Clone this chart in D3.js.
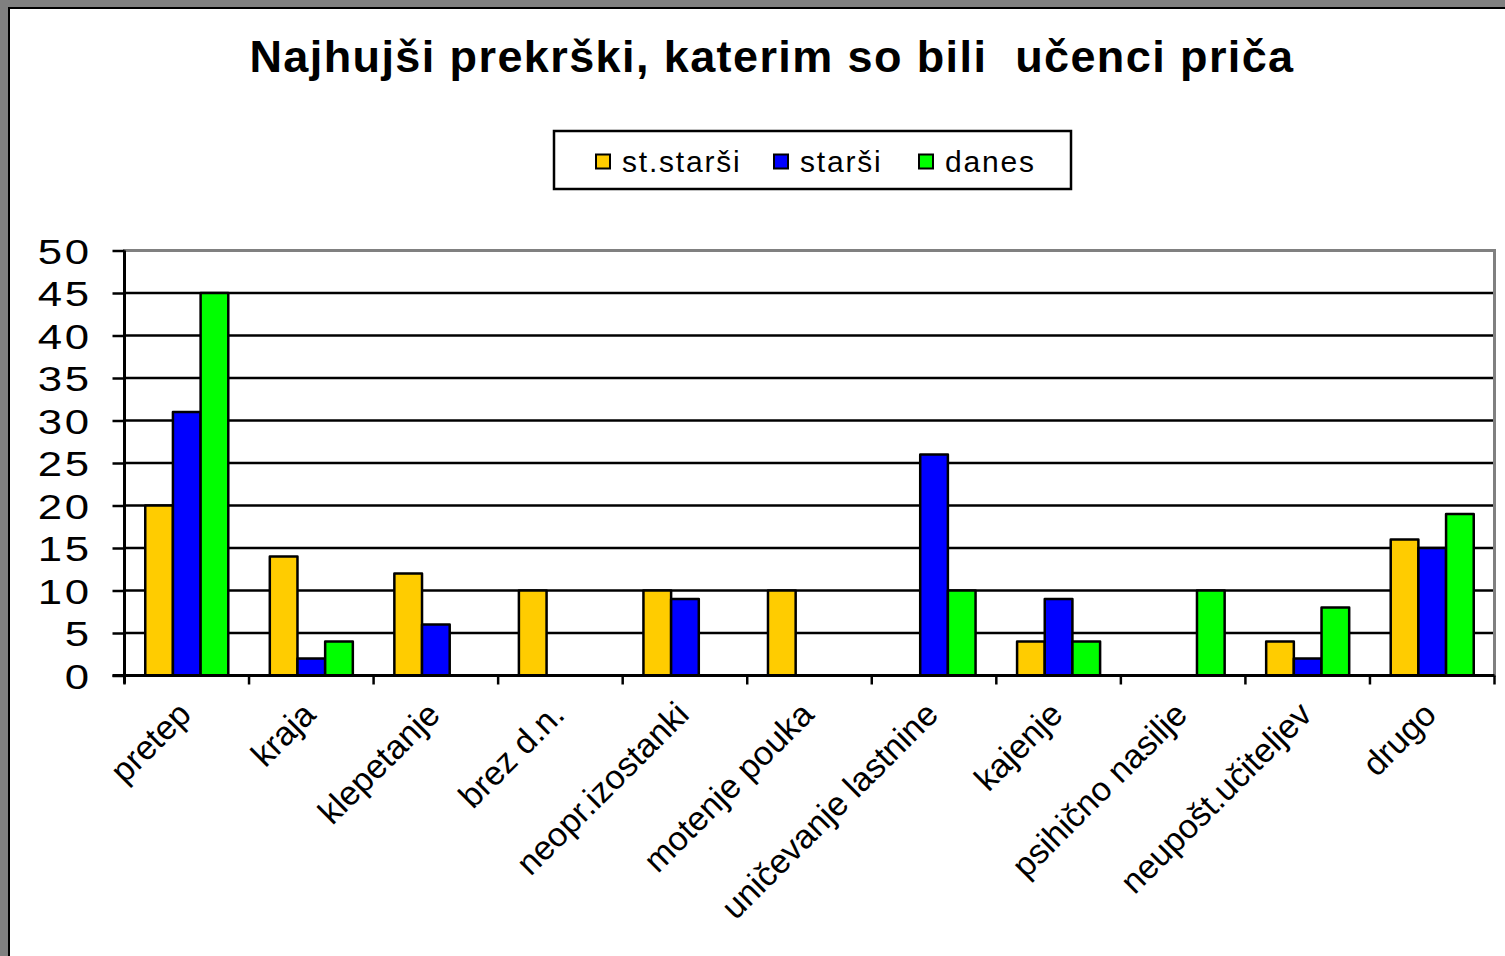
<!DOCTYPE html>
<html>
<head>
<meta charset="utf-8">
<script src="https://cdn.jsdelivr.net/npm/d3@7"></script>
<style>
  html, body { margin: 0; padding: 0; background: #808080; }
  svg { display: block; }
  text { font-family: "Liberation Sans", Arial, sans-serif; }
</style>
</head>
<body>
<svg id="chart" width="1505" height="956"></svg>
<script>
const categories = ["pretep", "kraja", "klepetanje", "brez d.n.", "neopr.izostanki", "motenje pouka", "uničevanje lastnine", "kajenje", "psihično nasilje", "neupošt.učiteljev", "drugo"];
const seriesNames = ["st.starši", "starši", "danes"];
const stStarsi = [20, 14, 12, 10, 10, 10, 0, 4, 0, 4, 16];
const starsi   = [31, 2, 6, 0, 9, 0, 26, 9, 0, 2, 15];
const danes    = [45, 4, 0, 0, 0, 0, 10, 4, 10, 8, 19];
const yTicks = [0, 5, 10, 15, 20, 25, 30, 35, 40, 45, 50];
const colors = ["#FFCC00", "#0000FF", "#00FF00"];
const titleText = "Najhujši prekrški, katerim so bili  učenci priča";

const seriesValues = [stStarsi, starsi, danes];
const data = categories.map((c, i) => ({cat: c, vals: seriesValues.map((s, j) => ({key: seriesNames[j], v: s[i], j}))}));

const svg = d3.select("#chart");
svg.append("rect").attr("x", 9).attr("y", 8).attr("width", 1600).attr("height", 1000)
  .attr("fill", "#fff").attr("stroke", "#000").attr("stroke-width", 2);

const plot = {left: 124.5, right: 1494.5, top: 250.5, bottom: 675.5};

const x0 = d3.scaleBand().domain(categories).range([plot.left, plot.right]).paddingInner(0).paddingOuter(0);
const x1 = d3.scaleBand().domain(seriesNames).range([0, x0.bandwidth()]).paddingInner(0).paddingOuter(0.75);
const y = d3.scaleLinear().domain([0, 50]).range([plot.bottom, plot.top]);

svg.append("rect").attr("x", plot.left).attr("y", plot.top)
  .attr("width", plot.right - plot.left).attr("height", plot.bottom - plot.top)
  .attr("fill", "none").attr("stroke", "#808080").attr("stroke-width", 3);

svg.append("g").selectAll("line").data(yTicks.filter(t => t > 0 && t < 50)).join("line")
  .attr("x1", plot.left).attr("x2", plot.right - 1.5)
  .attr("y1", d => y(d)).attr("y2", d => y(d))
  .attr("stroke", "#000").attr("stroke-width", 2.5);

const groups = svg.append("g").selectAll("g").data(data).join("g")
  .attr("transform", d => `translate(${x0(d.cat)},0)`);
groups.selectAll("rect").data(d => d.vals.filter(v => v.v > 0)).join("rect")
  .attr("x", d => x1(d.key))
  .attr("width", x1.bandwidth())
  .attr("y", d => y(d.v))
  .attr("height", d => y(0) - y(d.v))
  .attr("fill", d => colors[d.j])
  .attr("stroke", "#000").attr("stroke-width", 2.5).attr("stroke-linejoin", "round");

const yAxis = d3.axisLeft(y).tickValues(yTicks).tickSize(12).tickPadding(0).tickFormat(d3.format("d"));
const yg = svg.append("g").attr("transform", `translate(${plot.left},0)`).call(yAxis);
yg.select(".domain").attr("stroke", "#000").attr("stroke-width", 3).attr("d", `M0,${plot.top}V${plot.bottom + 8}`);
yg.selectAll(".tick line").attr("stroke", "#000").attr("stroke-width", 2.5);
yg.selectAll(".tick text").attr("font-size", 35).attr("fill", "#000").attr("letter-spacing", 2)
  .attr("x", 0).attr("transform", "translate(-33,0) scale(1.25,1)")
  .attr("font-family", "Liberation Sans, Arial, sans-serif").attr("dy", "0.36em");

const xAxis = d3.axisBottom(x0).tickSize(0).tickFormat("");
const xg = svg.append("g").attr("transform", `translate(0,${plot.bottom})`).call(xAxis);
xg.select(".domain").attr("stroke", "#000").attr("stroke-width", 3).attr("d", `M${plot.left - 12},0H${plot.right}`);
xg.selectAll(".tick").remove();
const bounds = categories.map(c => x0(c)).concat([plot.right]);
xg.selectAll("line.sep").data(bounds).join("line").attr("class", "sep")
  .attr("x1", d => d).attr("x2", d => d).attr("y1", 0).attr("y2", 9)
  .attr("stroke", "#000").attr("stroke-width", 2.5);

svg.append("g").selectAll("text").data(categories).join("text")
  .attr("transform", d => `translate(${x0(d) + x0.bandwidth() / 2 + 6},${plot.bottom + 41}) rotate(-45)`)
  .attr("text-anchor", "end")
  .attr("font-size", 34)
  .attr("fill", "#000")
  .text(d => d);

svg.append("text").attr("x", 772).attr("y", 72).attr("text-anchor", "middle")
  .attr("font-size", 45).attr("font-weight", "bold").attr("fill", "#000").attr("letter-spacing", 1.4)
  .attr("xml:space", "preserve").style("white-space", "pre")
  .text(titleText);

const lg = svg.append("g");
lg.append("rect").attr("x", 554).attr("y", 131).attr("width", 517).attr("height", 58)
  .attr("fill", "#fff").attr("stroke", "#000").attr("stroke-width", 2.5);
const legX = [596, 774, 919];
const items = lg.selectAll("g.item").data(seriesNames).join("g").attr("class", "item")
  .attr("transform", (d, i) => `translate(${legX[i]},0)`);
items.append("rect").attr("x", 0).attr("y", 154.5).attr("width", 14).attr("height", 14)
  .attr("fill", (d, i) => colors[i]).attr("stroke", "#000").attr("stroke-width", 2);
items.append("text").attr("x", 26).attr("y", 172).attr("font-size", 30).attr("letter-spacing", 1.8)
  .attr("fill", "#000").text(d => d);
</script>
</body>
</html>
